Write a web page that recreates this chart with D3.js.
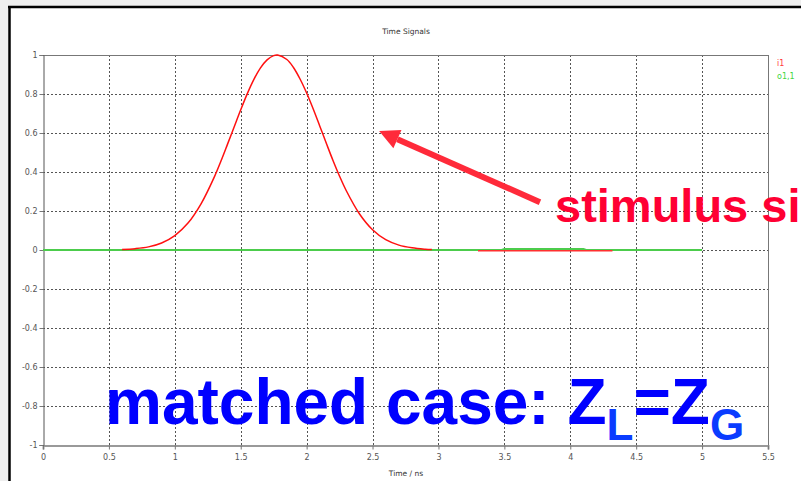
<!DOCTYPE html>
<html>
<head>
<meta charset="utf-8">
<script src="https://cdn.jsdelivr.net/npm/d3@7"></script>
<style>
  html, body { margin: 0; padding: 0; background: #eeeeee; overflow: hidden; }
  svg { display: block; }
</style>
</head>
<body>
<svg id="chart" width="801" height="481"></svg>
<script>
// values
var xTicks = [0, 0.5, 1, 1.5, 2, 2.5, 3, 3.5, 4, 4.5, 5, 5.5];
var yTicks = [-1, -0.8, -0.6, -0.4, -0.2, 0, 0.2, 0.4, 0.6, 0.8, 1];

// i1 : main pulse
var i1Time  = [0.6, 0.7, 0.8, 0.9, 1.0, 1.1, 1.2, 1.3, 1.35, 1.4, 1.45, 1.5, 1.55, 1.6, 1.65, 1.7, 1.75, 1.78,
               1.85, 1.9, 1.95, 2.0, 2.05, 2.1, 2.15, 2.2, 2.25, 2.3, 2.4, 2.5, 2.6, 2.7, 2.8, 2.9, 2.95];
var i1Value = [0.003, 0.007, 0.016, 0.036, 0.074, 0.138, 0.238, 0.375, 0.456, 0.543, 0.631, 0.719, 0.802, 0.875, 0.934, 0.975, 0.997, 1.0,
               0.977, 0.936, 0.877, 0.805, 0.723, 0.635, 0.546, 0.459, 0.378, 0.305, 0.186, 0.104, 0.053, 0.025, 0.011, 0.004, 0.002];
// i1 : small residual segment
var i1TailTime  = [3.3, 4.32];
var i1TailValue = [-0.004, -0.004];

// o1,1
var o11Time  = [0, 3.48, 3.5, 4.1, 4.12, 5];
var o11Value = [0, 0, 0.005, 0.005, 0, 0];

var legendNames  = ["i1", "o1,1"];
var legendColors = ["#ff3b3b", "#3fd63f"];

// annotation arrow, in data units
var arrowTip  = [2.55, 0.61];
var arrowTail = [3.77, 0.245];

var svg = d3.select("#chart");

// panel
svg.append("rect").attr("x", 10).attr("y", 7).attr("width", 800).attr("height", 480).attr("fill", "#ffffff");
svg.append("line").attr("x1", 9.5).attr("x2", 9.5).attr("y1", 6).attr("y2", 481)
  .attr("stroke", "#000").attr("stroke-width", 2.5);
svg.append("line").attr("x1", 8).attr("x2", 801).attr("y1", 7).attr("y2", 7)
  .attr("stroke", "#000").attr("stroke-width", 2.5);

var plotLeft = 43, plotRight = 768, plotTop = 55, plotBottom = 445;

var x = d3.scaleLinear().domain([0, 5.5]).range([plotLeft, plotRight]);
var y = d3.scaleLinear().domain([-1, 1]).range([plotBottom, plotTop]);

// plain hyphen for negatives, like the reference
var fmt = function(d) { return String(d); };

var g = svg.append("g");

// grid
g.selectAll(".vgrid").data(xTicks.filter(function(d) { return d > 0 && d < 5.5; }))
  .enter().append("line")
  .attr("x1", function(d) { return Math.round(x(d)) + 0.5; })
  .attr("x2", function(d) { return Math.round(x(d)) + 0.5; })
  .attr("y1", plotTop).attr("y2", plotBottom)
  .attr("stroke", "#555").attr("stroke-width", 1).attr("stroke-dasharray", "2,2");

g.selectAll(".hgrid").data(yTicks.filter(function(d) { return d > -1 && d < 1; }))
  .enter().append("line")
  .attr("x1", plotLeft).attr("x2", plotRight)
  .attr("y1", function(d) { return Math.round(y(d)) + 0.5; })
  .attr("y2", function(d) { return Math.round(y(d)) + 0.5; })
  .attr("stroke", "#555").attr("stroke-width", 1).attr("stroke-dasharray", "2,2");

// frame
g.append("line").attr("x1", plotLeft).attr("x2", plotRight).attr("y1", plotTop + 0.5).attr("y2", plotTop + 0.5)
  .attr("stroke", "#777");
g.append("line").attr("x1", plotRight + 0.5).attr("x2", plotRight + 0.5).attr("y1", plotTop).attr("y2", plotBottom)
  .attr("stroke", "#777");

// axes
var xAxis = d3.axisBottom(x).tickValues(xTicks).tickSize(4).tickFormat(fmt);
var gx = g.append("g").attr("transform", "translate(0," + (plotBottom + 0.5) + ")").call(xAxis);
gx.select(".domain").attr("stroke", "#999").attr("stroke-width", 2);
gx.selectAll(".tick line").attr("stroke", "#777");
gx.selectAll(".tick text").attr("fill", "#555").attr("font-family", "DejaVu Sans").attr("font-size", 8).attr("dy", "0.9em");

var yAxis = d3.axisLeft(y).tickValues(yTicks).tickSize(4).tickFormat(fmt);
var gy = g.append("g").attr("transform", "translate(" + (plotLeft + 0.5) + ",0)").call(yAxis);
gy.select(".domain").attr("stroke", "#555").attr("stroke-width", 1);
gy.selectAll(".tick line").attr("stroke", "#777");
gy.selectAll(".tick text").attr("fill", "#555").attr("font-family", "DejaVu Sans").attr("font-size", 8).attr("x", -6);

// series
var line = d3.line().x(function(d) { return x(d[0]); }).y(function(d) { return y(d[1]); });

g.append("path").datum(d3.zip(o11Time, o11Value))
  .attr("d", line).attr("fill", "none").attr("stroke", "#4ccc4c").attr("stroke-width", 2.2);

g.append("path").datum(d3.zip(i1Time, i1Value))
  .attr("d", line.curve(d3.curveCatmullRom)).attr("fill", "none").attr("stroke", "#ff1010").attr("stroke-width", 1.5);
line.curve(d3.curveLinear);
g.append("path").datum(d3.zip(i1TailTime, i1TailValue))
  .attr("d", line).attr("fill", "none").attr("stroke", "#ff3030").attr("stroke-width", 1.5);

// title & label
svg.append("text").attr("x", 406).attr("y", 34).attr("text-anchor", "middle")
  .attr("font-family", "DejaVu Sans").attr("font-size", 7.5).attr("fill", "#333").text("Time Signals");
svg.append("text").attr("x", 406).attr("y", 476).attr("text-anchor", "middle")
  .attr("font-family", "DejaVu Sans").attr("font-size", 7.5).attr("fill", "#333").text("Time / ns");

// legend
svg.selectAll(".leg").data(legendNames).enter().append("text")
  .attr("x", 777).attr("y", function(d, i) { return 66 + i * 13; })
  .attr("font-family", "DejaVu Sans").attr("font-size", 8)
  .attr("fill", function(d, i) { return legendColors[i]; })
  .text(function(d) { return d; });

// annotation arrow
var tx = x(arrowTip[0]), ty = y(arrowTip[1]);
var sx = x(arrowTail[0]), sy = y(arrowTail[1]);
var ang = Math.atan2(ty - sy, tx - sx);
var headLen = 20, headW = 10;
var bx = tx - headLen * Math.cos(ang), by = ty - headLen * Math.sin(ang);
svg.append("line").attr("x1", sx).attr("y1", sy).attr("x2", bx).attr("y2", by)
  .attr("stroke", "#ff2a3a").attr("stroke-width", 6);
svg.append("path")
  .attr("d", "M" + tx + "," + ty +
    "L" + (bx + headW * Math.sin(ang)) + "," + (by - headW * Math.cos(ang)) +
    "L" + (bx - headW * Math.sin(ang)) + "," + (by + headW * Math.cos(ang)) + "Z")
  .attr("fill", "#ff2a3a");

// annotation texts
svg.append("text").attr("x", 555).attr("y", 222)
  .attr("font-family", "Liberation Sans, Arial").attr("font-weight", "bold").attr("font-size", 47)
  .attr("fill", "#ff0033").text("stimulus signal");

var blue = svg.append("text").attr("x", 105).attr("y", 424)
  .attr("font-family", "Liberation Sans, Arial").attr("font-weight", "bold").attr("font-size", 64)
  .attr("fill", "#0000ff");
blue.append("tspan").text("matched case: Z");
blue.append("tspan").attr("font-size", 44).attr("dy", 16).attr("fill", "#0a3cff").text("L");
blue.append("tspan").attr("dy", -16).text("=Z");
blue.append("tspan").attr("font-size", 44).attr("dy", 16).attr("fill", "#0a3cff").text("G");
</script>
</body>
</html>
